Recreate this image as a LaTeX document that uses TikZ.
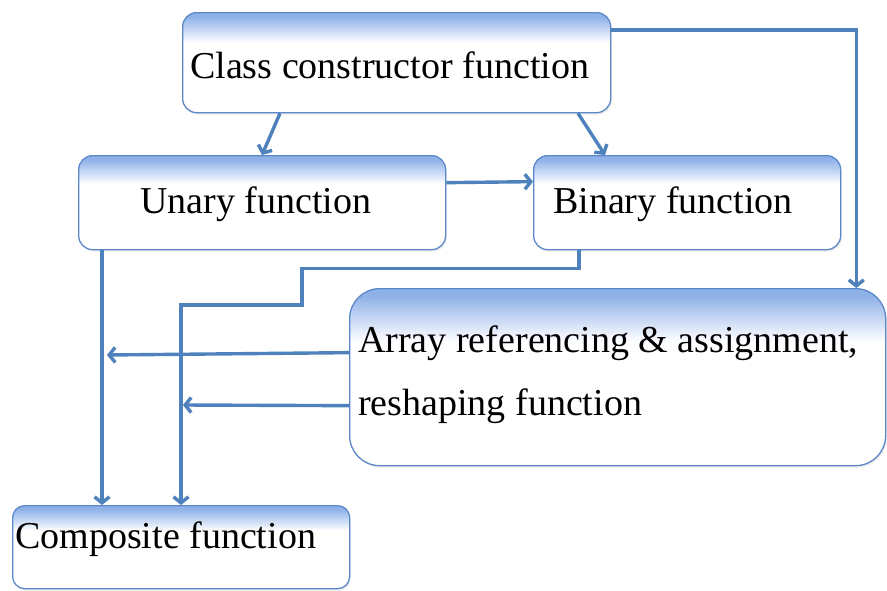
\documentclass[tikz,border=0pt]{standalone}
\usepackage{fontspec}
\setmainfont{Liberation Serif}
\usetikzlibrary{arrows.meta,shadows,calc}
\definecolor{edgeblue}{HTML}{5B88C8}
\definecolor{linkblue}{HTML}{4F81BD}
\definecolor{capblue}{HTML}{8EB1E8}
% white body with a blue band fading in from the top edge
\pgfdeclareverticalshading{capfade}{100bp}{color(0bp)=(white); color(25bp)=(white); color(60bp)=(white); color(73bp)=(capblue); color(100bp)=(capblue)}
\tikzset{
  fbox/.style={draw=edgeblue, line width=1.3pt, shading=capfade, rounded corners=#1,
    anchor=north west, inner sep=0pt,
    drop shadow={opacity=0.15, shadow xshift=1.2pt, shadow yshift=-2pt}},
  fbox/.default=14pt,
  ftext/.style={anchor=base west, inner sep=0pt, font=\fontsize{38}{63}\selectfont},
  link/.style={draw=linkblue, line width=3.4pt, -{Straight Barb[length=6pt,width=15pt]}},
}
\begin{document}
\begin{tikzpicture}[x=1pt,y=-1pt]
\useasboundingbox (0,0) rectangle (887,590);

% boxes
\node[fbox, minimum width=428pt, minimum height=100pt] (cls) at (182,12) {};
\node[fbox, minimum width=367pt, minimum height=94pt] (un) at (78,155) {};
\node[fbox, minimum width=307pt, minimum height=94pt] (bin) at (533,155) {};
\node[fbox=30pt, minimum width=536pt, minimum height=177pt] (arr) at (349,288) {};
\node[fbox=12pt, minimum width=337pt, minimum height=83pt] (comp) at (12,505) {};

% labels
\node[ftext] (clsT) at (190,78) {Class constructor function};
\node[ftext] (unT) at (140,213) {Unary function};
\node[ftext] (binT) at (553,213) {Binary function};
\node[ftext] (arrT1) at (358,352) {Array referencing \& assignment,};
\node[ftext] (arrT2) at (358,415) {reshaping function};
\node[ftext] (compT) at (15,548) {Composite function};

% free ends of the two arrows coming out of the array box
\coordinate (hitA) at (107,355);
\coordinate (hitB) at (183,405);

% connectors
\draw[link] ([xshift=98pt]cls.south west) -- ([xshift=184pt]un.north west);
\draw[link] ([xshift=396pt]cls.south west) -- ([xshift=72pt]bin.north west);
\draw[link] ([yshift=-18pt]cls.north east) -| ([xshift=-30pt]arr.north east);
\draw[link] ([yshift=20pt]un.east) -- ([yshift=21pt]bin.west);
\draw[link] ([xshift=24pt]un.south west) -- ([xshift=90pt]comp.north west);
\draw[link] ([xshift=46pt]bin.south west) -- ++(0,18) -| (302,305) -| ([xshift=169pt]comp.north west);
\draw[link] ([yshift=24.5pt]arr.west) -- (hitA);
\draw[link] ([yshift=-28.5pt]arr.west) -- (hitB);
\end{tikzpicture}
\end{document}
